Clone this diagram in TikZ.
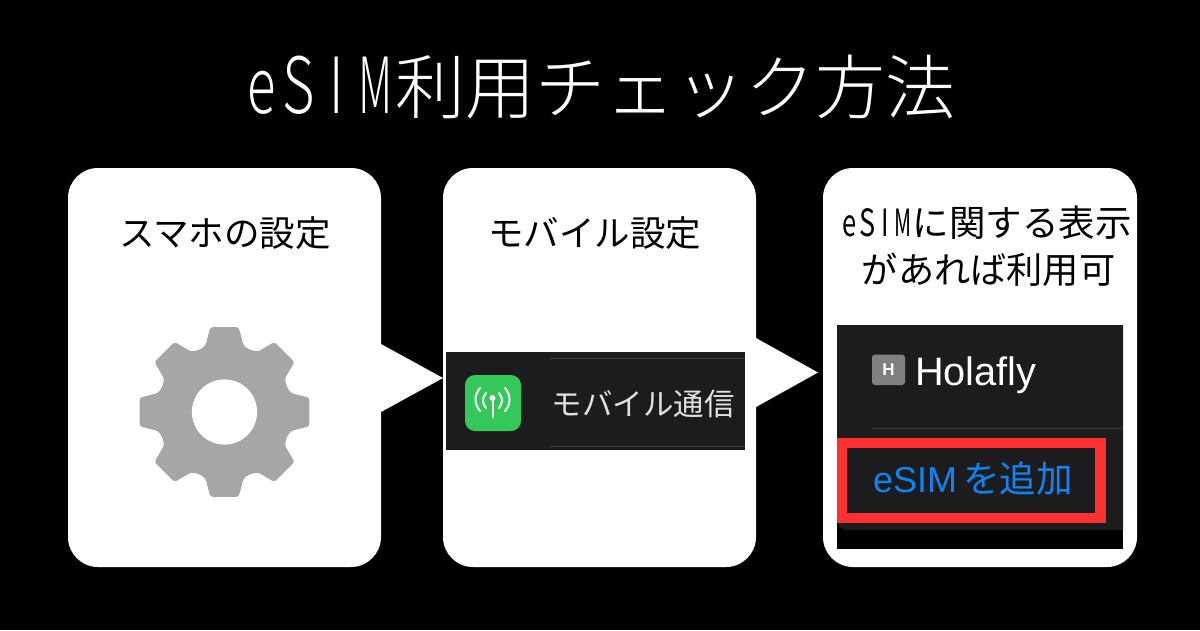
\documentclass[tikz,border=0pt]{standalone}
\usepackage{fontspec}
\newfontfamily\cjk{Noto Sans CJK JP Light}
\newfontfamily\body{Noto Sans CJK JP}
\newfontfamily\ios{Liberation Sans}
\definecolor{panel}{HTML}{1C1C1E}
\definecolor{hair}{HTML}{3A3A3C}
\definecolor{alert}{HTML}{FF3030}
\definecolor{link}{HTML}{0F84F0}
\definecolor{gearc}{HTML}{A6A6A6}
\definecolor{appg}{HTML}{34C759}
\newcommand{\fs}[1]{\fontsize{#1pt}{#1pt}\selectfont}
% one tall, narrow Latin letter in a fixed-width cell, as in the pixel font
\newcommand{\cell}[3]{\makebox[#1pt]{\scalebox{#2}[1.25]{#3}}}
\tikzset{
  card/.style={fill=white,rounded corners=30pt},
  pointer/.style={fill=white},
  head/.style={text=black,inner sep=0pt,anchor=center},
  hairline/.style={draw=hair,line width=1pt},
  wave/.style={draw=white,line width=2pt,line cap=round},
}
\begin{document}
\begin{tikzpicture}[x=1pt,y=-1pt]
\fill[black] (0,0) rectangle (1200,630);
\useasboundingbox (0,0) rectangle (1200,630);
% title
\node[text=white,inner sep=0pt] (title) at (600,87) {\cjk\fs{62}\cell{34}{0.85}{e}\cell{39}{0.9}{S}\cell{37.5}{0.85}{I}\cell{39.5}{0.7}{M}\fs{70}利用チェック方法};
% cards
\path[card] (68,168) rectangle (381,567);
\path[card] (443,168) rectangle (756,567);
\path[card] (823,168) rectangle (1137,567);
% pointers
\path[pointer] (381,344) -- (443,378) -- (381,412) -- cycle;
\path[pointer] (756,338) -- (818,372.5) -- (756,407) -- cycle;
% card headings
\node[head] (h1) at (225,233) {\body\fs{35.5}スマホの設定};
\node[head] (h2) at (594.5,233) {\body\fs{35.5}モバイル設定};
\node[head] (h3a) at (986,223) {\body\fs{30}\cell{17.5}{0.85}{e}\cell{18.5}{0.9}{S}\cell{17.5}{0.85}{I}\cell{18.5}{0.7}{M}\fs{36.5}に関する表示};
\node[head] (h3b) at (988.5,270) {\body\fs{36.2}があれば利用可};
% gear
\fill[gearc,rounded corners=2.5pt]
  ([shift={(224.5,412)}]-22.5:67)
  \foreach \a in {0,45,...,315} {
    -- ([shift={(224.5,412)}]\a-16:69)
    -- ([shift={(224.5,412)}]\a-9.5:86) -- ([shift={(224.5,412)}]\a+9.5:86)
    -- ([shift={(224.5,412)}]\a+16:69) -- ([shift={(224.5,412)}]\a+22.5:67)
  } -- cycle;
\fill[white] (224.5,412) circle (32.6);
% mobile panel
\fill[panel] (446,352) rectangle (745,450);
\draw[hairline] (550,358.5) -- (745,358.5);
\draw[hairline] (550,446) -- (745,446);
\fill[appg,rounded corners=10pt] (465,375) rectangle (521,431);
\draw[wave] (492.5,398) -- (492.5,417);
\fill[white] (492.5,398) circle (3);
\draw[wave] (486,393) .. controls (482,398) and (482,403) .. (486,408);
\draw[wave] (499,393) .. controls (503,398) and (503,403) .. (499,408);
\draw[wave] (480,388) .. controls (474,395) and (474,404) .. (480,411);
\draw[wave] (505,388) .. controls (511,395) and (511,404) .. (505,411);
\node[text={rgb,255:red,225;green,225;blue,225},inner sep=0pt] (mob) at (643,404) {\body\fs{30.5}モバイル通信};
% eSIM panel
\fill[black] (837,325) rectangle (1123,549);
\fill[panel] (837,325) -- (1123,325) -- (1123,530) [rounded corners=10pt] -- (837,530) [sharp corners] -- cycle;
\draw[hairline] (872,428) -- (1123,428);
\fill[gray,rounded corners=3pt] (872,354.5) rectangle (905,385);
\node[text=white,inner sep=0pt] (hi) at (888.5,369.5) {\ios\bfseries\fs{17}H};
\node[text=white,inner sep=0pt,anchor=base west] (hola) at (915,385) {\ios\fs{39.7}Holafly};
\draw[alert,line width=10.5pt] (842.2,443.2) rectangle (1100.7,518);
\node[text=link,inner sep=0pt,anchor=base west] (add) at (873,492.5) {\ios\fs{36}eSIM\,\body\fs{36.5}を追加};
\end{tikzpicture}
\end{document}
